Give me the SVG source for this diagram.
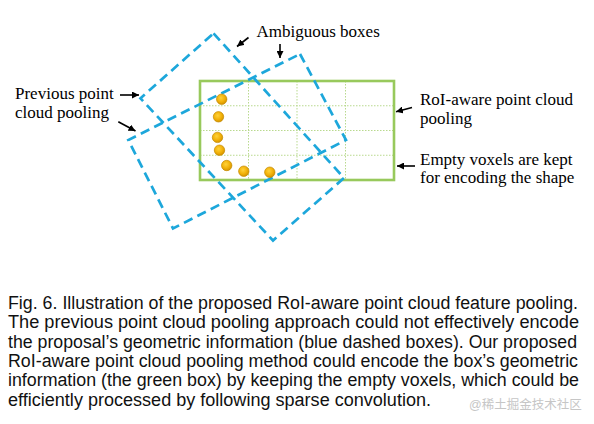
<svg xmlns="http://www.w3.org/2000/svg" width="594" height="424" viewBox="0 0 594 424">
<defs>
<radialGradient id="gold" cx="0.42" cy="0.38" r="0.62">
<stop offset="0" stop-color="#FFD23A"/>
<stop offset="0.6" stop-color="#F2B20A"/>
<stop offset="1" stop-color="#D69500"/>
</radialGradient>
<marker id="ah" markerUnits="userSpaceOnUse" markerWidth="8" markerHeight="7" refX="7" refY="3.5" orient="auto">
<path d="M0,0 L7,3.5 L0,7 z" fill="#000"/>
</marker>
</defs>
<style>
.grid{stroke:#B9D98E;stroke-width:1;stroke-dasharray:1.5 1.5;fill:none}
.gbox{stroke:#98C95C;stroke-width:2.6;fill:none}
.bbox{stroke:#1DA7DB;stroke-width:2.7;stroke-dasharray:9.5 5.5;fill:none}
.dot{fill:url(#gold);stroke:#C48A00;stroke-width:0.7}
.arr{stroke:#000;stroke-width:1.6;fill:none;marker-end:url(#ah)}
.lbl{font-family:"Liberation Serif","Times New Roman",serif;font-size:17px;fill:#000}
.cap{font-family:"Liberation Sans",Arial,sans-serif;font-size:18px;fill:#111}
.wm{font-family:"Liberation Sans","Noto Sans CJK SC",sans-serif;font-size:12.5px;fill:#C6C6C6}
</style>
<rect width="594" height="424" fill="#fff"/>
<g id="roi-box">
<line class="grid" x1="248.5" y1="81" x2="248.5" y2="180"/>
<line class="grid" x1="297" y1="81" x2="297" y2="180"/>
<line class="grid" x1="345.5" y1="81" x2="345.5" y2="180"/>
<line class="grid" x1="200" y1="105.75" x2="394" y2="105.75"/>
<line class="grid" x1="200" y1="130.5" x2="394" y2="130.5"/>
<line class="grid" x1="200" y1="155.25" x2="394" y2="155.25"/>
<rect class="gbox" x="200" y="81" width="194" height="99"/>
</g>
<g id="box-a">
<polygon class="bbox" points="213.5,33.3 344,178 273,240.5 140.5,98.3"/>
</g>
<g id="box-b">
<polygon class="bbox" points="300,54 346,140 173,228.5 128.3,140"/>
</g>
<g id="points">
<circle class="dot" cx="221.7" cy="99.2" r="5.2"/>
<circle class="dot" cx="218.5" cy="116.8" r="5.2"/>
<circle class="dot" cx="217.5" cy="137.4" r="5.2"/>
<circle class="dot" cx="219.5" cy="150.2" r="5.2"/>
<circle class="dot" cx="226.7" cy="165.5" r="5.2"/>
<circle class="dot" cx="243.8" cy="171.2" r="5.2"/>
<circle class="dot" cx="269.8" cy="172.2" r="5.2"/>
</g>
<g id="connectors">
<line class="arr" x1="120" y1="95" x2="139" y2="95"/>
<line class="arr" x1="118.3" y1="121.7" x2="135.5" y2="131"/>
<line class="arr" x1="248.5" y1="37.5" x2="237" y2="46.5"/>
<line class="arr" x1="280" y1="44" x2="280" y2="58"/>
<line class="arr" x1="412" y1="107.5" x2="396" y2="111.8"/>
<line class="arr" x1="415" y1="166" x2="397" y2="166"/>
</g>
<g id="label-ambiguous">
<text class="lbl" x="256.5" y="36.7">Ambiguous boxes</text>
</g>
<g id="label-previous">
<text class="lbl" x="15" y="99">Previous point</text>
<text class="lbl" x="15" y="118.3">cloud pooling</text>
</g>
<g id="label-roi">
<text class="lbl" x="420" y="105">RoI-aware point cloud</text>
<text class="lbl" x="420" y="124">pooling</text>
</g>
<g id="label-empty">
<text class="lbl" x="420" y="164.5">Empty voxels are kept</text>
<text class="lbl" x="420" y="183">for encoding the shape</text>
</g>
<g id="caption">
<text class="cap" x="8" y="309" textLength="570" lengthAdjust="spacingAndGlyphs">Fig. 6. Illustration of the proposed RoI-aware point cloud feature pooling.</text>
<text class="cap" x="8" y="328.3" textLength="571" lengthAdjust="spacingAndGlyphs">The previous point cloud pooling approach could not effectively encode</text>
<text class="cap" x="8" y="347.6" textLength="569" lengthAdjust="spacingAndGlyphs">the proposal’s geometric information (blue dashed boxes). Our proposed</text>
<text class="cap" x="8" y="366.9" textLength="570" lengthAdjust="spacingAndGlyphs">RoI-aware point cloud pooling method could encode the box’s geometric</text>
<text class="cap" x="8" y="386.2" textLength="571" lengthAdjust="spacingAndGlyphs">information (the green box) by keeping the empty voxels, which could be</text>
<text class="cap" x="8" y="405.5" textLength="423" lengthAdjust="spacingAndGlyphs">efficiently processed by following sparse convolution.</text>
<text class="wm" x="469" y="409">@稀土掘金技术社区</text>
</g>
</svg>
